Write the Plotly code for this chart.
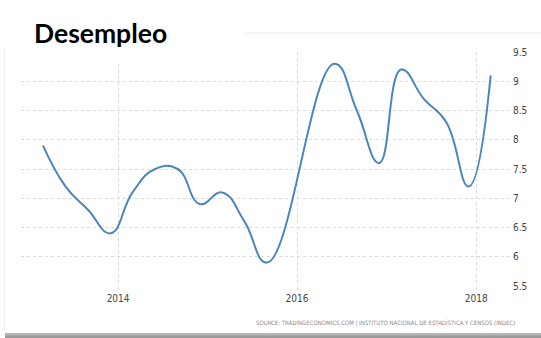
import plotly.graph_objects as go

# ---- data (quarterly unemployment rate, %) ----
quarters = ["2013-03-01", "2013-06-01", "2013-09-01", "2013-12-01",
            "2014-03-01", "2014-06-01", "2014-09-01", "2014-12-01",
            "2015-03-01", "2015-06-01", "2015-09-01",
            "2016-06-01", "2016-09-01", "2016-12-01",
            "2017-03-01", "2017-06-01", "2017-09-01", "2017-12-01",
            "2018-03-01"]
unemployment = [7.9, 7.2, 6.8, 6.4,
                7.1, 7.5, 7.5, 6.9,
                7.1, 6.6, 5.9,
                9.3, 8.5, 7.6,
                9.2, 8.7, 8.3, 7.2,
                9.1]
y_ticks = [5.5, 6, 6.5, 7, 7.5, 8, 8.5, 9, 9.5]
y_tick_labels = ["5.5", "6", "6.5", "7", "7.5", "8", "8.5", "9", "9.5"]
x_ticks = ["2014-01-01", "2016-01-01", "2018-01-01"]
x_tick_labels = ["2014", "2016", "2018"]
title_text = "Desempleo"
source_text = "SOURCE: TRADINGECONOMICS.COM | INSTITUTO NACIONAL DE ESTADÍSTICA Y CENSOS (INDEC)"

W, H = 541, 338
L, R, T, B = 21, 29, 52, 52
PW, PH = W - L - R, H - T - B

def px(x):
    return (x - L) / PW

def py(y):
    return (H - B - y) / PH

fig = go.Figure()
fig.add_trace(go.Scatter(
    x=quarters, y=unemployment, mode="lines",
    line=dict(color="#4a85bd", width=2, shape="spline", smoothing=1.3),
    hoverinfo="skip", showlegend=False,
))

tick_font = dict(family="Liberation Sans Narrow, DejaVu Sans Condensed, Arial, sans-serif",
                 size=10, color="#444444")

fig.update_layout(
    width=W, height=H,
    margin=dict(l=L, r=R, t=T, b=B, pad=0),
    paper_bgcolor="white", plot_bgcolor="white",
    xaxis=dict(
        range=["2012-12-01", "2018-05-27"],
        tickvals=x_ticks, ticktext=x_tick_labels,
        showgrid=True, gridcolor="#dadada", griddash="dot", gridwidth=1,
        ticks="outside", ticklen=3, tickcolor="#dadada",
        showline=False, zeroline=False, tickfont=tick_font,
    ),
    yaxis=dict(
        range=[5.5, 9.5], side="right",
        tickvals=y_ticks, ticktext=y_tick_labels,
        showgrid=True, gridcolor="#dadada", griddash="dot", gridwidth=1,
        ticks="", showline=False, zeroline=False, tickfont=tick_font,
    ),
    shapes=[
        # white patch behind the title
        dict(type="rect", xref="paper", yref="paper", layer="above",
             x0=px(0), x1=px(246), y0=py(64), y1=py(0),
             fillcolor="white", line=dict(width=0)),
        # faint frame lines
        dict(type="line", xref="paper", yref="paper", layer="above",
             x0=px(246), x1=px(541), y0=py(33), y1=py(33),
             line=dict(color="#ececec", width=1)),
        dict(type="line", xref="paper", yref="paper", layer="above",
             x0=px(4.5), x1=px(4.5), y0=py(47), y1=py(333),
             line=dict(color="#f0f0f0", width=1)),
        # grey shadow band at the bottom
        dict(type="rect", xref="paper", yref="paper", layer="above",
             x0=px(5), x1=px(541), y0=py(338), y1=py(333),
             fillcolor="#b4b4b4", line=dict(width=0)),
        dict(type="rect", xref="paper", yref="paper", layer="above",
             x0=px(5), x1=px(541), y0=py(338), y1=py(335.5),
             fillcolor="#9a9a9a", line=dict(width=0)),
    ],
    annotations=[
        dict(text="<b>" + title_text + "</b>", xref="paper", yref="paper",
             x=px(32), y=py(33), xanchor="left", yanchor="middle",
             showarrow=False,
             font=dict(family="Lato, Open Sans, sans-serif", size=26.5, color="black")),
        dict(text=source_text, xref="paper", yref="paper",
             x=px(517), y=py(323), xanchor="right", yanchor="middle",
             showarrow=False,
             font=dict(family="Liberation Sans Narrow, DejaVu Sans Condensed, Arial, sans-serif",
                       size=6, color="#8a8a8a")),
    ],
)

fig.write_html("out.html")
